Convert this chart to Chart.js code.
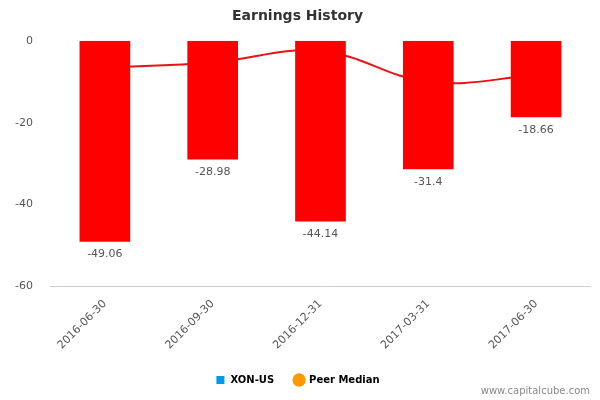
<!DOCTYPE html>
<html>
<head>
<meta charset="utf-8">
<script src="https://cdn.jsdelivr.net/npm/chart.js@4"></script>
<style>
  body { margin: 0; background: #fff; }
  #wrap { width: 600px; height: 400px; }
</style>
</head>
<body>
<div id="wrap"><canvas id="chart"></canvas></div>
<script>
var categories = ['2016-06-30', '2016-09-30', '2016-12-31', '2017-03-31', '2017-06-30'];
var earnings = [-49.06, -28.98, -44.14, -31.4, -18.66];
var peerMedian = [-6.5, -5.3, -2.5, -10, -8.5];
var yTicks = [0, -20, -40, -60];

var FONT = '"DejaVu Sans", sans-serif';

// value labels under each bar and the site mark at bottom right
var extras = {
  id: 'extras',
  afterDatasetsDraw: function(chart) {
    var ctx = chart.ctx;
    var meta = chart.getDatasetMeta(0);
    ctx.save();
    ctx.font = '11px ' + FONT;
    ctx.fillStyle = '#555';
    ctx.textAlign = 'center';
    ctx.textBaseline = 'top';
    meta.data.forEach(function(bar, i) {
      ctx.fillText(String(earnings[i]), bar.x, bar.y + 7);
    });
    ctx.font = '10px ' + FONT;
    ctx.fillStyle = '#888';
    ctx.textAlign = 'right';
    ctx.fillText('www.capitalcube.com', 590, 386);
    ctx.restore();
  }
};

new Chart(document.getElementById('chart'), {
  data: {
    labels: categories,
    datasets: [
      {
        type: 'bar', label: 'XON-US', data: earnings, order: 1,
        backgroundColor: '#ff0000', barPercentage: 0.47, categoryPercentage: 1
      },
      {
        type: 'line', label: 'Peer Median', data: peerMedian, order: 2,
        borderColor: '#ee1111', borderWidth: 2, pointRadius: 0, tension: 0.4
      }
    ]
  },
  options: {
    responsive: true,
    maintainAspectRatio: false,
    animation: false,
    layout: { padding: { left: 5, right: 10, top: 0, bottom: 5 } },
    plugins: {
      title: {
        display: true, text: 'Earnings History', color: '#333',
        font: { family: FONT, size: 14, weight: 'bold' }, padding: { top: 8, bottom: 16 }
      },
      legend: {
        position: 'bottom',
        labels: {
          font: { family: FONT, size: 10, weight: 'bold' }, color: '#333', padding: 20,
          generateLabels: function() {
            return [
              { text: 'XON-US', fillStyle: '#0099ee', strokeStyle: '#0099ee', lineWidth: 0, pointStyle: 'rect' },
              { text: 'Peer Median', fillStyle: '#ff9900', strokeStyle: '#ff9900', lineWidth: 2, pointStyle: 'circle' }
            ];
          },
          usePointStyle: true, boxHeight: 8
        }
      },
      tooltip: { enabled: false }
    },
    scales: {
      x: {
        grid: { display: false, drawTicks: true },
        border: { color: '#c0d0e0' },
        ticks: { color: '#555', font: { family: FONT, size: 11 }, maxRotation: 45, minRotation: 45 }
      },
      y: {
        min: -60, max: 0,
        afterBuildTicks: function(axis) { axis.ticks = yTicks.map(function(v) { return { value: v }; }); },
        grid: { display: false },
        border: { display: false },
        ticks: { color: '#555', font: { family: FONT, size: 11 }, padding: 10 }
      }
    }
  },
  plugins: [extras]
});
</script>
</body>
</html>
